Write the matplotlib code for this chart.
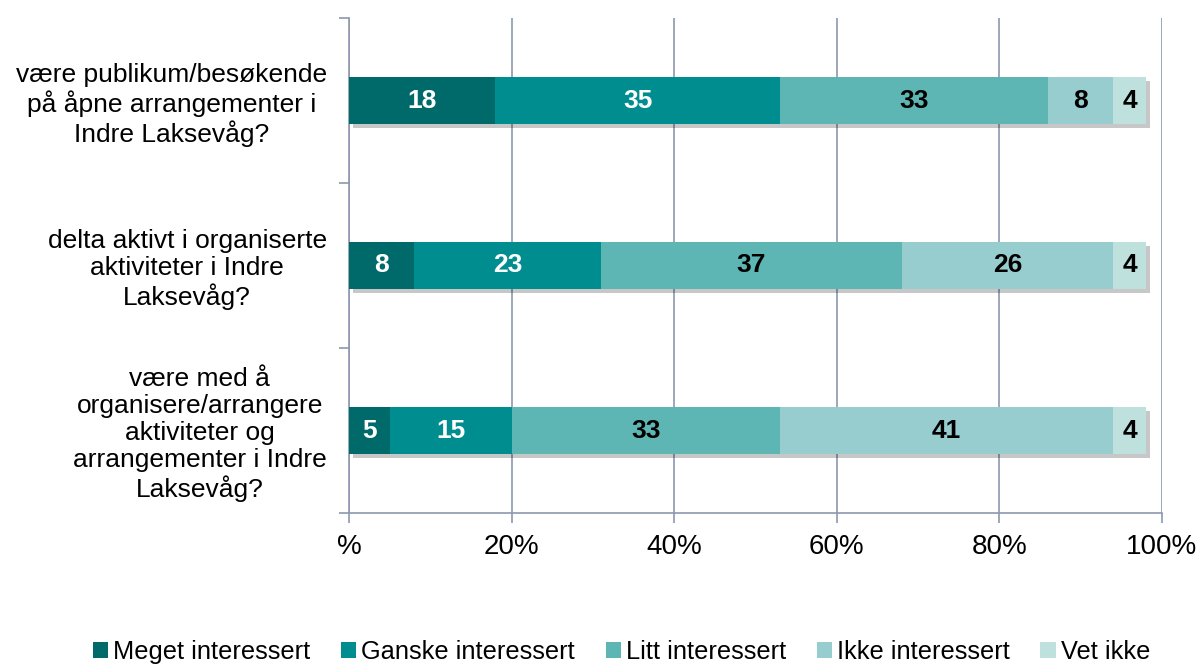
import numpy as np
import matplotlib.pyplot as plt
import matplotlib.patheffects as pe
from matplotlib.patches import Patch

plt.rcParams['font.family'] = ['Liberation Sans', 'DejaVu Sans']

questions = ['være publikum/besøkende\npå åpne arrangementer i\nIndre Laksevåg?',
             'delta aktivt i organiserte\naktiviteter i Indre\nLaksevåg?',
             'være med å\norganisere/arrangere\naktiviteter og\narrangementer i Indre\nLaksevåg?']
categories = ['Meget interessert', 'Ganske interessert', 'Litt interessert',
              'Ikke interessert', 'Vet ikke']
meget = [18, 8, 5]
ganske = [35, 23, 15]
litt = [33, 37, 33]
ikke = [8, 26, 41]
vet_ikke = [4, 4, 4]
series = [meget, ganske, litt, ikke, vet_ikke]

colors = ['#006A6B', '#008D90', '#5DB6B4', '#98CDD0', '#BEE1DE']
text_colors = ['white', 'white', 'black', 'black', 'black']
grid_color = '#8E98AE'

fig = plt.figure(figsize=(12, 6.66), dpi=100)
ax = fig.add_axes([349/1200, 1 - 513/666, (1162-349)/1200, (513-18)/666])

y = np.arange(len(questions))
left = np.zeros(len(questions))
shadow = [pe.SimplePatchShadow(offset=(3, -3), shadow_rgbFace='black', alpha=0.22), pe.Normal()]
for vals, col, tc in zip(series, colors, text_colors):
    vals = np.array(vals, dtype=float)
    bars = ax.barh(y, vals, left=left, height=0.285, color=col, zorder=3)
    for b in bars:
        b.set_path_effects(shadow)
    for yi, l, v in zip(y, left, vals):
        ax.text(l + v / 2, yi, f'{int(v)}', ha='center', va='center', color=tc,
                fontsize=19, fontweight='bold', zorder=4)
    left += vals

ax.set_xlim(0, 100)
ax.set_ylim(len(questions) - 0.5, -0.5)
ax.set_xticks([0, 20, 40, 60, 80, 100])
ax.set_xticklabels(['%', '20%', '40%', '60%', '80%', '100%'], fontsize=20)
ax.set_yticks(y)
ax.set_yticklabels(questions, fontsize=19, multialignment='center', linespacing=1.15)
ax.set_yticks(np.arange(-0.5, len(questions)), minor=True)
ax.tick_params(axis='y', which='major', length=0, pad=16)
ax.tick_params(axis='y', which='minor', length=7, color=grid_color, width=1.2)
ax.tick_params(axis='x', length=7, color=grid_color, width=1.2, pad=8)
ax.xaxis.grid(True, color=grid_color, linewidth=1.2, zorder=0)
ax.set_axisbelow(True)
for s in ['top', 'right']:
    ax.spines[s].set_visible(False)
for s in ['left', 'bottom']:
    ax.spines[s].set_color(grid_color)
    ax.spines[s].set_linewidth(1.2)

handles = [Patch(facecolor=c, label=n) for c, n in zip(colors, categories)]
fig.legend(handles=handles, loc='center', bbox_to_anchor=(0.518, 1 - 652/666), ncol=5,
           frameon=False, fontsize=18.3, handlelength=0.6, handleheight=0.6,
           handletextpad=0.2, columnspacing=1.2, borderaxespad=0)

fig.savefig('out.png', dpi=100)
